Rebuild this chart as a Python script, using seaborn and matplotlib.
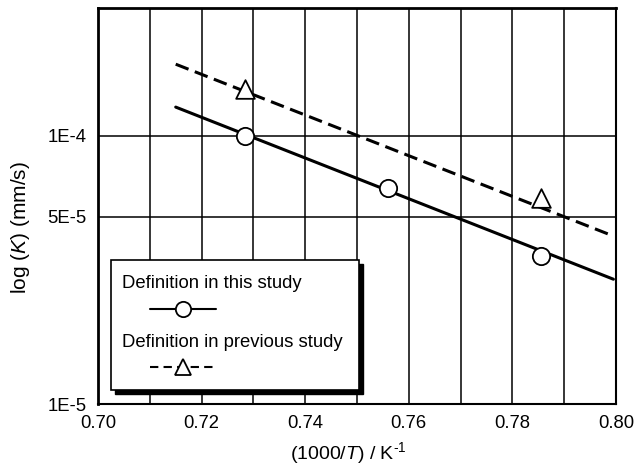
import numpy as np
import pandas as pd
import matplotlib
matplotlib.use("Agg")
import matplotlib.pyplot as plt
from matplotlib.patches import Rectangle
from matplotlib.lines import Line2D
from matplotlib.ticker import FixedLocator, NullLocator
import seaborn as sns

# ---- data ----
x_this = [0.7283, 0.7559, 0.7855]
k_this = [1.00e-4, 6.4e-5, 3.55e-5]
x_prev = [0.7283, 0.7855]
k_prev = [1.50e-4, 5.87e-5]
fit_x = [0.715, 0.7995]
fit_this = [1.28e-4, 2.92e-5]
fit_prev = [1.85e-4, 4.23e-5]
x_ticks = [0.70, 0.72, 0.74, 0.76, 0.78, 0.80]
x_tick_labels = ["0.70", "0.72", "0.74", "0.76", "0.78", "0.80"]
x_grid = [0.71, 0.72, 0.73, 0.74, 0.75, 0.76, 0.77, 0.78, 0.79]
y_ticks = [1e-5, 5e-5, 1e-4]
y_tick_labels = ["1E-5", "5E-5", "1E-4"]
legend_labels = ["Definition in this study", "Definition in previous study"]

sns.set_theme(style="white")
plt.rcParams['font.family'] = ['Liberation Sans', 'DejaVu Sans']
plt.rcParams['mathtext.fontset'] = 'custom'
plt.rcParams['mathtext.rm'] = 'Liberation Sans'
plt.rcParams['mathtext.it'] = 'Liberation Sans:italic'
plt.rcParams['text.color'] = 'black'
plt.rcParams['axes.labelcolor'] = 'black'

FS = 13.3

fig = plt.figure(figsize=(6.34, 4.66), dpi=100)
ax = fig.add_axes([0.1546, 0.1330, 0.8170, 0.8509])

df_fit = pd.DataFrame({"x": fit_x * 2, "k": fit_this + fit_prev,
                       "s": ["this"] * 2 + ["prev"] * 2})
sns.lineplot(data=df_fit[df_fit.s == "this"], x="x", y="k", ax=ax,
             color="black", lw=2.2, zorder=3)
sns.lineplot(data=df_fit[df_fit.s == "prev"], x="x", y="k", ax=ax,
             color="black", lw=2.2, zorder=3, dashes=False, linestyle=(0, (4.5, 2.2)))
sns.scatterplot(x=x_this, y=k_this, ax=ax, marker="o", s=155,
                facecolor="white", edgecolor="black", linewidth=1.3, zorder=4)
sns.scatterplot(x=x_prev, y=k_prev, ax=ax, marker="^", s=180,
                facecolor="white", edgecolor="black", linewidth=1.3, zorder=4)

ax.set_yscale("log")
ax.set_xlim(0.70, 0.80)
ax.set_ylim(1e-5, 3.01e-4)

for xv in x_grid:
    ax.axvline(xv, color="black", lw=1.1, zorder=1)
for yv in [5e-5, 1e-4]:
    ax.axhline(yv, color="black", lw=1.1, zorder=1)

ax.xaxis.set_major_locator(FixedLocator(x_ticks))
ax.set_xticklabels(x_tick_labels)
ax.yaxis.set_major_locator(FixedLocator(y_ticks))
ax.yaxis.set_minor_locator(NullLocator())
ax.set_yticklabels(y_tick_labels)
ax.tick_params(axis="both", length=0, labelsize=FS, colors="black")
ax.tick_params(axis="x", pad=8)
ax.tick_params(axis="y", pad=8)

for side in ["left", "top"]:
    ax.spines[side].set_linewidth(2.0)
for side in ["right", "bottom"]:
    ax.spines[side].set_linewidth(1.5)
for sp in ax.spines.values():
    sp.set_color("black")
    sp.set_visible(True)

ax.set_xlabel("(1000/$\\it{T}$) / K$^{\\text{-1}}$", fontsize=14)
ax.set_ylabel("log ($\\it{K}$) (mm/s)", fontsize=15)
ax.xaxis.set_label_coords(0.4826, -0.092)
ax.yaxis.set_label_coords(-0.128, 0.444)

# ---- custom legend box with shadow ----
def ax_frac(px, py):
    x0, x1 = 98, 616
    y0, y1 = 404, 7.5
    return (px - x0) / (x1 - x0), (py - y0) / (y1 - y0)

lx0, ly_top = ax_frac(111, 260)
lx1, ly_bot = ax_frac(359, 390)
sx, sy = ax_frac(115, 264)
sx1, sy1 = ax_frac(363, 394)
ax.add_patch(Rectangle((sx, sy1), sx1 - sx, sy - sy1, transform=ax.transAxes,
                       facecolor="black", edgecolor="black", zorder=5))
ax.add_patch(Rectangle((lx0, ly_bot), lx1 - lx0, ly_top - ly_bot, transform=ax.transAxes,
                       facecolor="white", edgecolor="black", lw=1.2, zorder=6))

tx, ty1 = ax_frac(122, 283)
_, ty2 = ax_frac(122, 342)
ax.text(tx, ty1, legend_labels[0], transform=ax.transAxes, fontsize=FS,
        va="center", ha="left", zorder=7)
ax.text(tx, ty2, legend_labels[1], transform=ax.transAxes, fontsize=FS,
        va="center", ha="left", zorder=7)

hx0, hy1 = ax_frac(150, 309)
hx1, hy2 = ax_frac(216, 367)
hxm = (hx0 + hx1) / 2
ax.add_line(Line2D([hx0, hx1], [hy1, hy1], transform=ax.transAxes, color="black",
                   lw=1.5, zorder=7))
ax.add_line(Line2D([hxm], [hy1], transform=ax.transAxes, marker="o", markersize=11,
                   markerfacecolor="white", markeredgecolor="black", mew=1.3, zorder=8))
ax.add_line(Line2D([hx0, hx1], [hy2, hy2], transform=ax.transAxes, color="black",
                   lw=1.5, linestyle=(0, (4, 2.5)), zorder=7))
ax.add_line(Line2D([hxm], [hy2], transform=ax.transAxes, marker="^", markersize=12,
                   markerfacecolor="white", markeredgecolor="black", mew=1.3, zorder=8))

fig.savefig("out.png", dpi=100)
